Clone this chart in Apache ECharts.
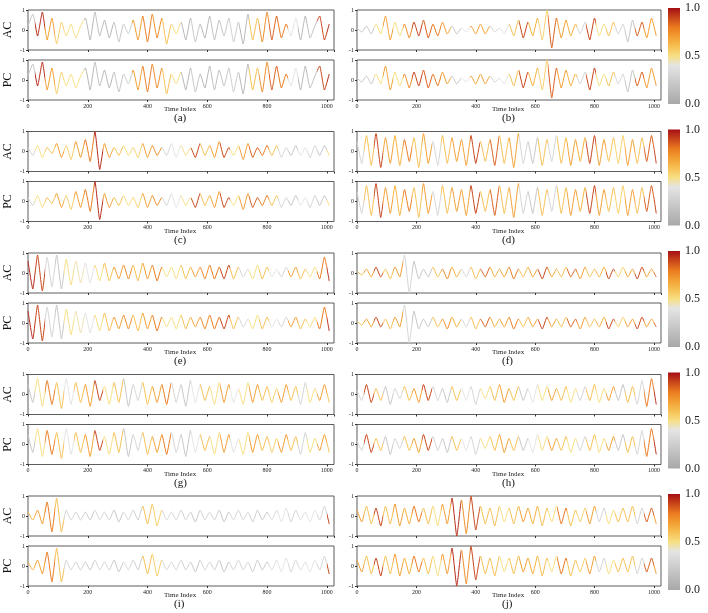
<!DOCTYPE html>
<html>
<head>
<meta charset="utf-8">
<script src="https://cdn.jsdelivr.net/npm/echarts@6/dist/echarts.min.js"></script>
<style>html,body{margin:0;padding:0;background:#fff}#main{width:708px;height:613px}</style>
</head>
<body>
<div id="main"></div>
<script>
// panel labels
var panels = ['a','b','c','d','e','f','g','h','i','j'];
var step = 16; // samples between stored points
// signals (one value every 16 samples, AC and PC nearly the same)
var sigA = [0.2,0.8,-0.3,0.9,-0.5,0.6,-0.7,0.4,-0.3,0.3,-0.4,0.2,0.6,-0.5,0.9,-0.3,0.5,-0.4,0.4,-0.6,0.3,-0.2,0.5,-0.5,0.7,-0.6,0.8,-0.4,0.6,-0.7,0.3,-0.2,0.4,-0.5,0.6,-0.6,0.3,-0.4,0.7,-0.5,0.5,-0.3,0.6,-0.6,0.4,-0.7,0.8,-0.5,0.6,-0.6,0.9,-0.5,0.7,-0.4,0.3,-0.3,0.6,-0.5,0.7,-0.4,0.2,0.7,-0.5,0.3];
var sigB = [0.1,-0.1,0.2,-0.2,0.3,-0.2,0.7,-0.5,0.4,-0.3,0.3,-0.4,0.4,-0.3,0.5,-0.4,0.3,-0.3,0.4,-0.2,0.2,-0.2,0.1,-0.1,0.2,-0.2,0.3,-0.2,0.2,-0.1,0.1,-0.2,0.3,-0.3,0.5,-0.4,0.4,-0.3,0.6,-0.5,1.0,-0.9,0.6,-0.4,0.5,-0.3,0.3,-0.2,0.4,-0.5,0.6,-0.3,0.3,-0.3,0.4,-0.2,0.3,-0.6,0.5,-0.3,0.4,-0.4,0.6,-0.3];
var sigC = [0.2,-0.2,0.3,-0.3,0.2,-0.1,0.4,-0.3,0.3,-0.4,0.5,-0.3,0.6,-0.5,1.0,-0.9,0.4,-0.3,0.2,-0.2,0.3,-0.2,0.2,-0.3,0.4,-0.3,0.3,-0.2,0.2,-0.2,0.4,-0.3,0.3,-0.2,0.2,-0.3,0.4,-0.2,0.3,-0.3,0.5,-0.3,0.2,-0.2,0.3,-0.4,0.4,-0.3,0.2,-0.2,0.3,-0.2,0.3,-0.3,0.2,-0.2,0.3,-0.2,0.2,-0.3,0.3,-0.2,0.3,-0.2];
var sigD = [0.5,-0.6,0.8,-0.7,0.9,-0.8,0.7,-0.6,0.8,-0.7,0.6,-0.5,0.7,-0.8,0.9,-0.6,0.5,-0.7,0.8,-0.6,0.7,-0.5,0.6,-0.7,0.8,-0.6,0.5,-0.5,0.6,-0.7,0.8,-0.6,0.7,-0.8,0.9,-0.6,0.5,-0.6,0.7,-0.7,0.6,-0.5,0.8,-0.6,0.7,-0.7,0.6,-0.5,0.7,-0.6,0.8,-0.7,0.6,-0.5,0.7,-0.6,0.8,-0.7,0.6,-0.6,0.7,-0.5,0.8,-0.6];
var sigE = [0.6,-0.8,0.9,-0.9,0.8,-0.7,0.9,-0.8,0.7,-0.6,0.6,-0.5,0.5,-0.5,0.4,-0.4,0.5,-0.4,0.3,-0.3,0.4,-0.3,0.4,-0.4,0.5,-0.3,0.4,-0.4,0.3,-0.2,0.3,-0.3,0.4,-0.3,0.3,-0.2,0.3,-0.3,0.4,-0.3,0.3,-0.3,0.4,-0.3,0.3,-0.2,0.2,-0.3,0.4,-0.3,0.3,-0.2,0.2,-0.2,0.3,-0.2,0.3,-0.3,0.2,-0.2,0.3,-0.3,0.8,-0.4];
var sigF = [0.1,-0.1,0.2,-0.2,0.3,-0.2,0.2,-0.3,0.3,-0.2,0.9,-1.0,0.6,-0.3,0.2,-0.2,0.3,-0.2,0.2,-0.3,0.3,-0.2,0.2,-0.2,0.3,-0.3,0.2,-0.2,0.3,-0.2,0.2,-0.2,0.3,-0.3,0.2,-0.2,0.3,-0.2,0.2,-0.3,0.3,-0.2,0.2,-0.2,0.3,-0.2,0.2,-0.3,0.3,-0.2,0.2,-0.2,0.3,-0.3,0.2,-0.2,0.3,-0.2,0.2,-0.3,0.3,-0.2,0.2,-0.2];
var sigG = [0.5,-0.4,0.8,-0.6,0.7,-0.5,0.6,-0.7,0.8,-0.5,0.6,-0.4,0.5,-0.6,0.7,-0.3,0.4,-0.5,0.6,-0.4,0.8,-0.6,0.5,-0.3,0.6,-0.5,0.4,-0.4,0.5,-0.5,0.6,-0.4,0.5,-0.6,0.7,-0.4,0.5,-0.3,0.4,-0.5,0.6,-0.4,0.5,-0.4,0.3,-0.5,0.6,-0.4,0.5,-0.3,0.4,-0.4,0.3,-0.4,0.5,-0.3,0.4,-0.5,0.6,-0.4,0.3,-0.3,0.5,-0.4];
var sigH = [0.2,-0.3,0.5,-0.4,0.3,-0.3,0.4,-0.5,0.3,-0.2,0.4,-0.3,0.3,-0.4,0.5,-0.3,0.4,-0.3,0.3,-0.4,0.4,-0.3,0.3,-0.3,0.4,-0.5,0.3,-0.2,0.4,-0.3,0.5,-0.4,0.3,-0.3,0.4,-0.3,0.3,-0.4,0.5,-0.3,0.4,-0.3,0.3,-0.3,0.4,-0.4,0.3,-0.3,0.4,-0.3,0.5,-0.4,0.3,-0.3,0.4,-0.3,0.5,-0.4,0.4,-0.5,0.7,-0.6,0.8,-0.5];
var sigI = [0.2,-0.2,0.3,-0.4,0.7,-0.8,0.9,-0.8,0.3,-0.2,0.2,-0.2,0.2,-0.2,0.3,-0.2,0.2,-0.2,0.3,-0.3,0.2,-0.2,0.3,-0.2,0.5,-0.4,0.6,-0.5,0.3,-0.2,0.2,-0.2,0.3,-0.2,0.2,-0.3,0.3,-0.2,0.2,-0.2,0.3,-0.3,0.2,-0.2,0.3,-0.2,0.2,-0.3,0.3,-0.2,0.2,-0.2,0.3,-0.3,0.4,-0.3,0.3,-0.2,0.2,-0.3,0.3,-0.2,0.5,-0.4];
var sigJ = [0.3,-0.3,0.5,-0.4,0.4,-0.5,0.5,-0.4,0.6,-0.5,0.4,-0.4,0.5,-0.3,0.4,-0.4,0.5,-0.5,0.6,-0.4,0.9,-1.0,0.8,-0.9,1.0,-0.7,0.5,-0.4,0.4,-0.5,0.5,-0.3,0.4,-0.4,0.5,-0.3,0.4,-0.4,0.5,-0.5,0.4,-0.3,0.5,-0.4,0.4,-0.5,0.3,-0.3,0.4,-0.4,0.5,-0.3,0.4,-0.4,0.3,-0.3,0.4,-0.3,0.5,-0.4,0.4,-0.3,0.4,-0.4];
// importance values, one per 32-sample block
var impA = [0.2,0.95,0.7,0.55,0.5,0.5,0.1,0.15,0.1,0.2,0.25,0.7,0.8,0.75,0.6,0.5,0.1,0.2,0.1,0.15,0.2,0.25,0.1,0.6,0.75,0.85,0.8,0.4,0.1,0.15,0.9,0.95];
var impB = [0.2,0.2,0.5,0.7,0.5,0.75,0.9,0.85,0.8,0.7,0.2,0.4,0.7,0.7,0.3,0.4,0.6,0.9,0.65,0.55,0.85,0.7,0.65,0.3,0.9,0.5,0.6,0.3,0.2,0.85,0.7,0.7];
var impC = [0.3,0.5,0.6,0.7,0.55,0.7,0.8,0.95,0.7,0.6,0.5,0.55,0.7,0.75,0.3,0.4,0.5,0.9,0.6,0.7,0.9,0.5,0.7,0.85,0.8,0.6,0.3,0.2,0.4,0.3,0.2,0.5];
var impD = [0.3,0.6,0.9,0.7,0.65,0.8,0.6,0.7,0.3,0.6,0.7,0.7,0.9,0.6,0.85,0.6,0.7,0.3,0.2,0.6,0.3,0.6,0.7,0.65,0.9,0.7,0.6,0.55,0.7,0.6,0.85,0.9];
var impE = [0.95,0.9,0.3,0.2,0.5,0.45,0.4,0.5,0.6,0.7,0.75,0.6,0.7,0.8,0.5,0.5,0.6,0.7,0.75,0.8,0.9,0.6,0.3,0.5,0.6,0.4,0.3,0.7,0.6,0.5,0.8,0.95];
var impF = [0.6,0.7,0.9,0.6,0.7,0.3,0.2,0.2,0.6,0.75,0.65,0.3,0.6,0.85,0.65,0.7,0.8,0.6,0.7,0.9,0.7,0.6,0.85,0.7,0.6,0.65,0.9,0.55,0.7,0.9,0.7,0.85];
var impG = [0.2,0.5,0.8,0.6,0.4,0.6,0.7,0.9,0.5,0.6,0.2,0.3,0.6,0.7,0.8,0.3,0.2,0.4,0.6,0.5,0.7,0.4,0.5,0.7,0.6,0.55,0.7,0.6,0.3,0.5,0.7,0.6];
var impH = [0.3,0.9,0.6,0.2,0.3,0.6,0.7,0.9,0.3,0.2,0.6,0.4,0.3,0.5,0.6,0.7,0.6,0.2,0.4,0.5,0.7,0.6,0.5,0.3,0.6,0.5,0.7,0.2,0.6,0.3,0.8,0.95];
var impI = [0.65,0.7,0.8,0.6,0.3,0.25,0.2,0.3,0.25,0.2,0.3,0.25,0.6,0.55,0.3,0.3,0.25,0.2,0.3,0.25,0.2,0.3,0.3,0.25,0.2,0.35,0.4,0.3,0.35,0.4,0.3,0.9];
var impJ = [0.7,0.6,0.9,0.6,0.7,0.65,0.8,0.6,0.5,0.7,0.95,0.75,0.9,0.6,0.6,0.5,0.6,0.7,0.65,0.6,0.5,0.8,0.6,0.55,0.7,0.3,0.5,0.6,0.6,0.3,0.85,0.7];
var cbTicks = [0, 0.5, 1];

var signals = [sigA,sigB,sigC,sigD,sigE,sigF,sigG,sigH,sigI,sigJ];
var imps = [impA,impB,impC,impD,impE,impF,impG,impH,impI,impJ];

// colormap gray -> yellow -> orange -> dark red
var stops = [[0,[168,168,168]],[0.4,[228,228,228]],[0.5,[247,223,132]],[0.65,[246,177,59]],[0.8,[234,122,31]],[1,[165,15,21]]];
function cmap(v){
    for(var i=1;i<stops.length;i++){
        if(v<=stops[i][0]){
            var a=stops[i-1], b=stops[i], t=(v-a[0])/(b[0]-a[0]);
            var c=[0,1,2].map(function(k){return Math.round(a[1][k]+(b[1][k]-a[1][k])*t);});
            return 'rgb('+c.join(',')+')';
        }
    }
    return 'rgb(165,15,21)';
}

var font = 'Liberation Serif';
var rowH = 121.5;
var grids=[], xAxes=[], yAxes=[], series=[], graphics=[];

for(var p=0;p<10;p++){
    var col = p%2, row = Math.floor(p/2), off = row*rowH;
    var gLeft = col===0 ? 28 : 357, gWidth = col===0 ? 306 : 304;
    var sig = signals[p];
    var lastX = (sig.length-1)*step;
    ['AC','PC'].forEach(function(name,k){
        // hard-edged horizontal gradient: one colour per 32-sample block
        var cs = [];
        imps[p].forEach(function(v,i){
            cs.push({offset:Math.min(1, i*32/lastX), color:cmap(v)});
            cs.push({offset:Math.min(1, (i+1)*32/lastX), color:cmap(v)});
        });
        var gi = grids.length;
        grids.push({left:gLeft, top:10+off+k*50, width:gWidth, height:40, show:true, borderColor:'#333', borderWidth:0.8});
        xAxes.push({gridIndex:gi, type:'value', min:0, max:1024, interval:200,
            axisLine:{show:false, onZero:false}, splitLine:{show:false},
            axisTick:{show:true, length:2, lineStyle:{color:'#333'}},
            axisLabel:{show:k===1, fontSize:6, margin:3, color:'#222', fontFamily:font,
                formatter:function(v){return String(v);}}});
        yAxes.push({gridIndex:gi, type:'value', min:-1, max:1, interval:1,
            axisLine:{show:false, onZero:false}, splitLine:{show:false},
            axisTick:{show:true, length:2, lineStyle:{color:'#333'}},
            axisLabel:{fontSize:6, margin:3, color:'#222', fontFamily:font},
            name:col===0?name:'', nameLocation:'middle', nameGap:14, nameRotate:90,
            nameTextStyle:{fontSize:12, fontFamily:font, color:'#111'}});
        series.push({type:'line', xAxisIndex:gi, yAxisIndex:gi,
            data:sig.map(function(v,i){return [i*step, v];}), showSymbol:false,
            smooth:0.15, silent:true,
            lineStyle:{width:1, color:{type:'linear', x:0, y:0, x2:1, y2:0, colorStops:cs}}});
    });
    graphics.push({type:'text', x:gLeft+gWidth/2-17, y:106+off, style:{text:'Time Index', fontSize:7, fontFamily:font, fill:'#222'}});
    graphics.push({type:'text', x:gLeft+gWidth/2-7, y:113+off, style:{text:'('+panels[p]+')', fontSize:11, fontFamily:font, fill:'#111'}});
}

// colorbars, one per row
for(var r=0;r<5;r++){
    var cbTop = 8+r*rowH, cbH = 96;
    var gs = [];
    for(var s=0;s<=10;s++){ gs.push({offset:s/10, color:cmap(1-s/10)}); }
    graphics.push({type:'rect', shape:{x:668, y:cbTop, width:12, height:cbH},
        style:{fill:{type:'linear', x:0, y:0, x2:0, y2:1, colorStops:gs}}});
    cbTicks.forEach(function(t){
        graphics.push({type:'text', x:685, y:cbTop+cbH*(1-t)-6, style:{text:t.toFixed(1), fontSize:12, fontFamily:font, fill:'#222'}});
    });
}

var chart = echarts.init(document.getElementById('main'));
chart.setOption({
    animation:false,
    grid:grids, xAxis:xAxes, yAxis:yAxes, series:series, graphic:graphics
});
</script>
</body>
</html>
